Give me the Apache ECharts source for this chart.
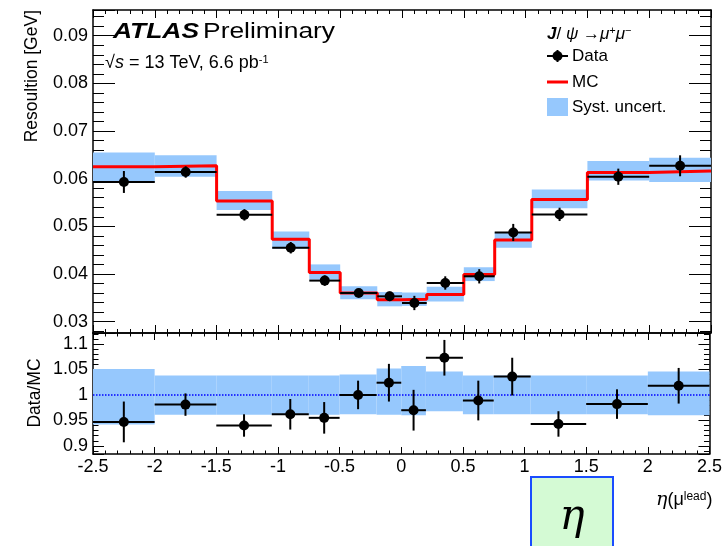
<!DOCTYPE html>
<html>
<head>
<meta charset="utf-8">
<script src="https://cdn.jsdelivr.net/npm/echarts@6/dist/echarts.min.js"></script>
<style>html,body{margin:0;padding:0;background:#fff}#c{width:725px;height:546px}</style>
</head>
<body>
<div id="c"></div>
<script>
// ---- data ----
const binEdges = [-2.5, -2, -1.5, -1.05, -0.75, -0.5, -0.2, 0, 0.2, 0.5, 0.75, 1.05, 1.5, 2, 2.5];
const dataVals = [0.0593, 0.0614, 0.0524, 0.0455, 0.0386, 0.0360, 0.0353, 0.0339, 0.0381, 0.0395, 0.0487, 0.0525, 0.0604, 0.0627];
const dataErr  = [0.0023, 0.0012, 0.0012, 0.0012, 0.0011, 0.0008, 0.0010, 0.0015, 0.0014, 0.0015, 0.0018, 0.0014, 0.0017, 0.0022];
const mcVals   = [0.0625, 0.0627, 0.0553, 0.0473, 0.0403, 0.0360, 0.0346, 0.0347, 0.0357, 0.0399, 0.0471, 0.0556, 0.0613, 0.0616];
const systLo   = [0.0593, 0.0604, 0.0534, 0.0453, 0.0388, 0.0347, 0.0332, 0.0333, 0.0342, 0.0385, 0.0455, 0.0538, 0.0596, 0.0593];
const systHi   = [0.0655, 0.0649, 0.0574, 0.0489, 0.0420, 0.0374, 0.0362, 0.0361, 0.0373, 0.0414, 0.0488, 0.0577, 0.0637, 0.0644];
const ratioVals   = [0.947, 0.981, 0.940, 0.962, 0.955, 1.000, 1.024, 0.970, 1.073, 0.989, 1.036, 0.943, 0.982, 1.018];
const ratioErr    = [0.040, 0.022, 0.022, 0.030, 0.031, 0.028, 0.037, 0.040, 0.035, 0.039, 0.037, 0.025, 0.029, 0.035];
const ratioSystLo = [0.942, 0.961, 0.961, 0.961, 0.961, 0.962, 0.961, 0.960, 0.968, 0.962, 0.962, 0.962, 0.962, 0.960];
const ratioSystHi = [1.051, 1.038, 1.038, 1.038, 1.038, 1.040, 1.052, 1.057, 1.046, 1.038, 1.038, 1.038, 1.038, 1.046];
const xTickLabels = ['-2.5', '-2', '-1.5', '-1', '-0.5', '0', '0.5', '1', '1.5', '2', '2.5'];

const FONT = "'Liberation Sans', Arial, Helvetica, sans-serif";
const BAND = '#96c8fd';

const nb = binEdges.length - 1;
const bandTop = [], bandRatio = [], ptsTop = [], ptsRatio = [], mcStep = [];
for (let i = 0; i < nb; i++) {
  bandTop.push([binEdges[i], binEdges[i + 1], systLo[i], systHi[i]]);
  bandRatio.push([binEdges[i], binEdges[i + 1], ratioSystLo[i], ratioSystHi[i]]);
  ptsTop.push([binEdges[i], binEdges[i + 1], dataVals[i], dataErr[i]]);
  ptsRatio.push([binEdges[i], binEdges[i + 1], ratioVals[i], ratioErr[i]]);
  mcStep.push([binEdges[i], mcVals[i]]);
}
mcStep.push([binEdges[nb], mcVals[nb - 1]]);

function bandRender(params, api) {
  const a = api.coord([api.value(0), api.value(3)]);
  const b = api.coord([api.value(1), api.value(2)]);
  return { type: 'rect', shape: { x: a[0], y: a[1], width: b[0] - a[0], height: b[1] - a[1] }, style: { fill: BAND } };
}
function pointRender(params, api) {
  const lo = api.value(0), hi = api.value(1), v = api.value(2), e = api.value(3);
  const c = (lo + hi) / 2;
  const pL = api.coord([lo, v]), pR = api.coord([hi, v]);
  const pT = api.coord([c, v + e]), pB = api.coord([c, v - e]), pC = api.coord([c, v]);
  return { type: 'group', children: [
    { type: 'line', shape: { x1: pL[0], y1: pL[1], x2: pR[0], y2: pR[1] }, style: { stroke: '#000', lineWidth: 2 } },
    { type: 'line', shape: { x1: pT[0], y1: pT[1], x2: pB[0], y2: pB[1] }, style: { stroke: '#000', lineWidth: 2 } },
    { type: 'circle', shape: { cx: pC[0], cy: pC[1], r: 5 }, style: { fill: '#000' } }
  ] };
}

function xAx(grid, pos, labels, tickLen) {
  return {
    type: 'value', gridIndex: grid, position: pos, min: -2.5, max: 2.5, interval: 0.5,
    axisLine: { show: true, onZero: false, lineStyle: { color: '#000', width: 1.5 } },
    axisTick: { show: true, inside: true, length: tickLen, lineStyle: { color: '#000', width: 1 } },
    minorTick: { show: true, splitNumber: 5, length: tickLen / 2, lineStyle: { color: '#000', width: 1 } },
    axisLabel: { show: labels, color: '#000', fontSize: 18, fontFamily: FONT, margin: 4,
      formatter: v => { const s = Number(v.toFixed(2)).toString(); return xTickLabels.indexOf(s) >= 0 ? s : ''; } },
    splitLine: { show: false }
  };
}
function yAx(grid, pos, labels, min, max, step, tickLen) {
  return {
    type: 'value', gridIndex: grid, position: pos, min: min, max: max,
    axisLine: { show: true, onZero: false, lineStyle: { color: '#000', width: 1.5 } },
    axisTick: { show: true, inside: true, length: tickLen, lineStyle: { color: '#000', width: 1 } },
    minorTick: { show: true, splitNumber: 5, length: tickLen / 2, lineStyle: { color: '#000', width: 1 } },
    axisLabel: { show: labels, color: '#000', fontSize: 18, fontFamily: FONT, margin: 5,
      formatter: v => { const k = v / step; return Math.abs(k - Math.round(k)) < 1e-6 ? Number(v.toFixed(4)).toString() : ''; } },
    splitLine: { show: false }
  };
}

const chart = echarts.init(document.getElementById('c'), null, { renderer: 'canvas' });
chart.setOption({
  animation: false,
  backgroundColor: '#fff',
  grid: [
    { left: 93, right: 14, top: 10, height: 323 },
    { left: 93, right: 14, top: 333, height: 121 }
  ],
  xAxis: [
    xAx(0, 'bottom', false, 8), xAx(0, 'top', false, 8),
    xAx(1, 'bottom', true, 7), xAx(1, 'top', false, 7)
  ],
  yAxis: [
    yAx(0, 'left', true, 0.0276, 0.0954, 0.01, 22), yAx(0, 'right', false, 0.0276, 0.0954, 0.01, 22),
    yAx(1, 'left', true, 0.884, 1.1216, 0.05, 11), yAx(1, 'right', false, 0.884, 1.1216, 0.05, 11)
  ],
  series: [
    { type: 'custom', xAxisIndex: 0, yAxisIndex: 0, data: bandTop, encode: { x: [0, 1], y: [2, 3] }, renderItem: bandRender, z: 1 },
    { type: 'line', xAxisIndex: 0, yAxisIndex: 0, data: mcStep, step: 'end', symbol: 'none',
      lineStyle: { color: '#ff0000', width: 3 }, z: 2 },
    { type: 'custom', xAxisIndex: 0, yAxisIndex: 0, data: ptsTop, encode: { x: [0, 1], y: [2] }, renderItem: pointRender, z: 3 },
    { type: 'custom', xAxisIndex: 2, yAxisIndex: 2, data: bandRatio, encode: { x: [0, 1], y: [2, 3] }, renderItem: bandRender, z: 1 },
    { type: 'line', xAxisIndex: 2, yAxisIndex: 2, data: [[-2.5, 1], [2.5, 1]], symbol: 'none',
      lineStyle: { color: '#0000ff', width: 1.5, type: 'dotted' }, z: 2 },
    { type: 'custom', xAxisIndex: 2, yAxisIndex: 2, data: ptsRatio, encode: { x: [0, 1], y: [2] }, renderItem: pointRender, z: 3 }
  ],
  graphic: [
    { type: 'text', x: 113, y: 32, scaleX: 1.2, style: {
        text: '{a|ATLAS} {b|Preliminary}', textVerticalAlign: 'middle', fill: '#000',
        rich: { a: { fontSize: 22, fontWeight: 900, fontStyle: 'italic', fontFamily: FONT },
                b: { fontSize: 22, fontFamily: FONT } } } },
    { type: 'text', x: 105, y: 63, style: {
        text: '√{i|s} = 13 TeV, 6.6 pb{sup|-1}', textVerticalAlign: 'middle', fill: '#000',
        fontSize: 18, fontFamily: FONT,
        rich: { i: { fontSize: 18, fontStyle: 'italic', fontFamily: FONT },
                sup: { fontSize: 11, fontFamily: FONT, verticalAlign: 'top' } } } },
    { type: 'text', x: 547, y: 34, style: {
        text: '{j|J}/ {g|ψ} →{g|μ}{sup|+}{g|μ}{sup|−}', textVerticalAlign: 'middle', fill: '#000',
        fontSize: 17, fontFamily: FONT,
        rich: { j: { fontSize: 17, fontWeight: 'bold', fontStyle: 'italic', fontFamily: FONT },
                g: { fontSize: 17, fontStyle: 'italic', fontFamily: FONT },
                sup: { fontSize: 11, fontFamily: FONT, verticalAlign: 'top' } } } },
    { type: 'line', shape: { x1: 547, y1: 56, x2: 568, y2: 56 }, style: { stroke: '#000', lineWidth: 2 } },
    { type: 'line', shape: { x1: 557.5, y1: 50, x2: 557.5, y2: 62 }, style: { stroke: '#000', lineWidth: 2 } },
    { type: 'circle', shape: { cx: 557.5, cy: 56, r: 5 }, style: { fill: '#000' } },
    { type: 'text', x: 572, y: 56, style: { text: 'Data', fontSize: 17, fontFamily: FONT, fill: '#000', textVerticalAlign: 'middle' } },
    { type: 'line', shape: { x1: 547, y1: 82, x2: 568, y2: 82 }, style: { stroke: '#ff0000', lineWidth: 3 } },
    { type: 'text', x: 572, y: 82, style: { text: 'MC', fontSize: 17, fontFamily: FONT, fill: '#000', textVerticalAlign: 'middle' } },
    { type: 'rect', shape: { x: 547, y: 98, width: 21, height: 18 }, style: { fill: BAND } },
    { type: 'text', x: 572, y: 107, style: { text: 'Syst. uncert.', fontSize: 17, fontFamily: FONT, fill: '#000', textVerticalAlign: 'middle' } },
    { type: 'text', x: 32, y: 10, rotation: Math.PI / 2, style: {
        text: 'Resoultion [GeV]', fontSize: 17.5, fontFamily: FONT, fill: '#000', textAlign: 'right', textVerticalAlign: 'middle' } },
    { type: 'text', x: 35, y: 393, rotation: Math.PI / 2, style: {
        text: 'Data/MC', fontSize: 17.5, fontFamily: FONT, fill: '#000', textAlign: 'center', textVerticalAlign: 'middle' } },
    { type: 'text', x: 656, y: 500, style: {
        text: '{g|η}(μ{sup|lead})', textVerticalAlign: 'middle', fill: '#000', fontSize: 18, fontFamily: FONT,
        rich: { g: { fontSize: 19, fontStyle: 'italic', fontFamily: "'DejaVu Serif', serif" },
                sup: { fontSize: 12, fontFamily: FONT, verticalAlign: 'top' } } } },
    { type: 'rect', shape: { x: 531, y: 477, width: 82, height: 80 }, style: { fill: '#d4fad4', stroke: '#1a4cff', lineWidth: 2 } },
    { type: 'text', x: 572, y: 518, style: {
        text: 'η', fontSize: 42, fontStyle: 'italic', fontFamily: "'DejaVu Serif', 'Liberation Serif', serif",
        fill: '#000', textAlign: 'center', textVerticalAlign: 'middle' } }
  ]
});
</script>
</body>
</html>
